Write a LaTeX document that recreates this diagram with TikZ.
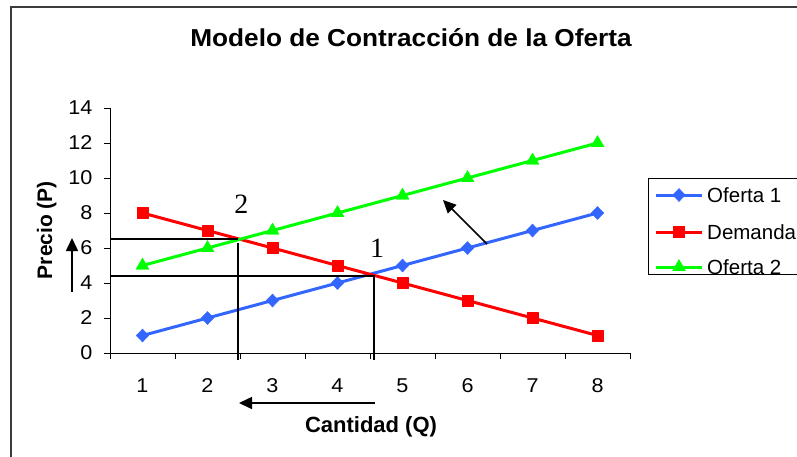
\documentclass[tikz,border=0pt]{standalone}
\usepackage{fontspec}
\setmainfont{Liberation Sans}
\newfontfamily\romana{Liberation Serif}
\usetikzlibrary{arrows.meta,plotmarks}

\definecolor{azul}{RGB}{51,102,255}
\definecolor{rojo}{RGB}{255,0,0}
\definecolor{verde}{RGB}{0,255,0}
\definecolor{marco}{RGB}{60,60,60}

\begin{document}
\begin{tikzpicture}[x=1pt,y=-1pt,
	eje/.style={black,line width=1pt},
	serie/.style={line width=3pt,line join=round},
	guia/.style={black,line width=1.5pt},
	flecha/.style={black,line width=1.6pt,-{Triangle[length=13pt,width=12pt]}},
	etiq/.style={font=\fontsize{20}{24}\selectfont,inner sep=0pt,xscale=1.08},
	leyenda/.style={font=\fontsize{20.5}{24}\selectfont,inner sep=0pt,anchor=west},
	rombo/.style={mark=diamond*,mark size=6.5pt,mark options={line width=0.4pt,xscale=1.3}},
	cuadro/.style={mark=square*,mark size=5.5pt,mark options={line width=0.4pt}},
	triang/.style={mark=triangle*,mark size=7.5pt,mark options={line width=0.4pt}}]
	\useasboundingbox (0,0) rectangle (797,456);
	\clip (0,0) rectangle (797,456);
	\draw[marco,line width=2pt] (11,7) rectangle (830,480);
	
	\node[font=\bfseries\fontsize{24.5}{28}\selectfont,anchor=base,xscale=1.07] (titulo) at (411,46) {Modelo de Contracción de la Oferta};
	
	% grafico en unidades de los datos
	\begin{scope}[shift={(77.5,353)},x=65pt,y=17.5pt]
		\draw[eje] (0.5,0) -- (8.5,0);
		\draw[eje] (0.5,0) -- (0.5,14);
		\foreach \v in {0,2,...,14} {
			\draw[eje] (0.5,\v) -- ++(-6pt,0);
			\node[etiq,anchor=east,xshift=-16pt] (py\v) at (0.5,\v) {\v};
		}
		\foreach \q in {0,...,8}
			\draw[eje] (\q+0.5,0) -- ++(0,-6pt);
		\foreach \q in {1,...,8}
			\node[etiq,yshift=-33pt] (qx\q) at (\q,0) {\q};
		
		\draw[serie,azul] plot[rombo]
			coordinates {(1,1) (2,2) (3,3) (4,4) (5,5) (6,6) (7,7) (8,8)};
		\draw[serie,rojo] plot[cuadro]
			coordinates {(1,8) (2,7) (3,6) (4,5) (5,4) (6,3) (7,2) (8,1)};
		\draw[serie,verde] plot[triang]
			coordinates {(1,5) (2,6) (3,7) (4,8) (5,9) (6,10) (7,11) (8,12)};
		
		% equilibrios
		\coordinate (e2) at (2.469,6.51);
		\coordinate (e1) at (4.562,4.4);
		\coordinate (p2) at (0.5,6.51);
		\coordinate (p1) at (0.5,4.4);
		\coordinate (q2) at (2.469,-0.4);
		\coordinate (q1) at (4.562,-0.4);
		\draw[guia] (p2) -- (e2);
		\draw[guia] ([yshift=-4pt]e2) -- (q2);
		\draw[guia] (p1) -- (e1) -- (q1);
		\node[font=\romana\fontsize{28}{32}\selectfont,inner sep=0pt] (n2) at (2.52,8.48) {2};
		\node[font=\romana\fontsize{28}{32}\selectfont,inner sep=0pt] (n1) at (4.608,5.97) {1};
	\end{scope}
	
	\node[font=\bfseries\fontsize{21}{25}\selectfont,rotate=90] (precio) at (46.7,230) {Precio (P)};
	\node[font=\bfseries\fontsize{22}{26}\selectfont] (cantidad) at (371,427) {Cantidad (Q)};
	
	% flechas del desplazamiento
	\coordinate (a1) at (487,244);
	\coordinate (a2) at (443,200);
	\coordinate (b1) at (72,292);
	\coordinate (b2) at (72,238);
	\coordinate (c1) at (375,403);
	\coordinate (c2) at (239,403);
	\draw[flecha] (a1) -- (a2);
	\draw[flecha] (b1) -- (b2);
	\draw[flecha] (c1) -- (c2);
	
	% leyenda
	\draw[black,line width=1pt] (648,178) rectangle (830,274);
	\draw[serie,azul] (656,195) -- (702,195);
	\draw[serie,rojo] (656,232) -- (702,232);
	\draw[serie,verde] (656,267) -- (702,267);
	\path[azul] plot[rombo] coordinates {(679,195)};
	\path[rojo] plot[cuadro] coordinates {(679,232)};
	\path[verde] plot[triang] coordinates {(679,267)};
	\node[leyenda] (l1) at (707,195) {Oferta 1};
	\node[leyenda] (l2) at (707,232) {Demanda};
	\node[leyenda] (l3) at (707,267) {Oferta 2};
\end{tikzpicture}
\end{document}
